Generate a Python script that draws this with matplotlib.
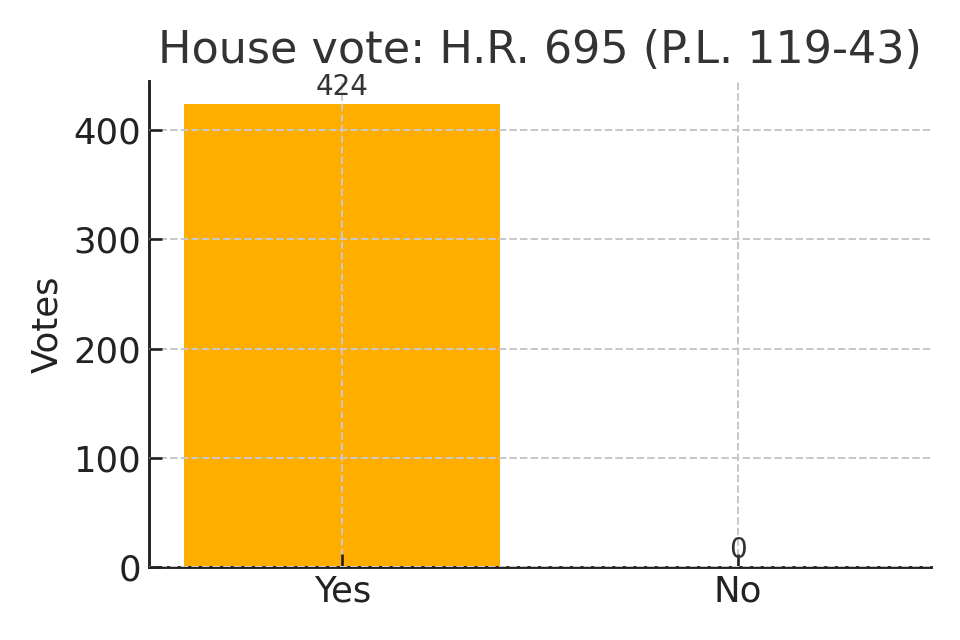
import matplotlib
matplotlib.use("Agg")
import matplotlib.pyplot as plt

categories = ["Yes", "No"]
votes = [424, 0]
title = "House vote: H.R. 695 (P.L. 119-43)"

plt.rcParams["font.family"] = ["DejaVu Sans"]

fig, ax = plt.subplots(figsize=(6, 4), dpi=160)
bars = ax.bar(categories, votes, width=0.8, color="#ffae00")

for b, v in zip(bars, votes):
    ax.text(b.get_x() + b.get_width() / 2, v + 3, str(v),
            ha="center", va="bottom", fontsize=12.5, color="#333333")

ax.set_title(title, fontsize=20, color="#333333", pad=8)
ax.set_ylabel("Votes", fontsize=16, color="#222222")
ax.tick_params(axis="both", direction="in", labelsize=16, length=6,
               width=1.2, colors="#222222")
ax.grid(True, linestyle="--", color="#c8c8c8", linewidth=0.9)
ax.set_axisbelow(False)
for s in ["top", "right"]:
    ax.spines[s].set_visible(False)
for s in ["left", "bottom"]:
    ax.spines[s].set_linewidth(1.3)
    ax.spines[s].set_color("#222222")

fig.subplots_adjust(left=0.155, right=0.97, top=0.874, bottom=0.114)
fig.savefig("out.png", dpi=160)
